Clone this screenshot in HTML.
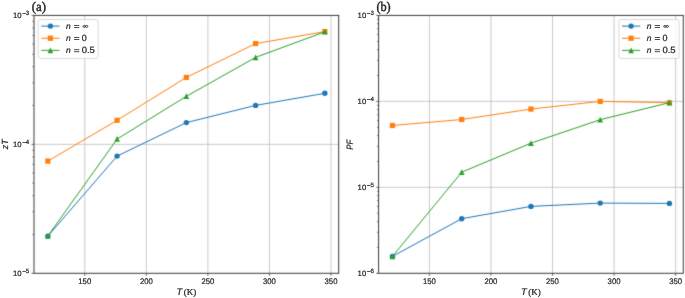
<!DOCTYPE html><html><head><meta charset="utf-8"><style>html,body{margin:0;padding:0;background:#fff;overflow:hidden;}svg{display:block;}text{text-rendering:geometricPrecision;font-family:"Liberation Sans",sans-serif;fill:#222;stroke:#222;stroke-width:0.2;}.serif{font-family:"Liberation Serif",serif;}.it{font-style:italic;}</style></head><body>
<svg width="685" height="298" viewBox="0 0 685 298">
<defs><filter id="bl" filterUnits="userSpaceOnUse" x="0" y="0" width="685" height="298" color-interpolation-filters="sRGB"><feConvolveMatrix order="3" kernelMatrix="1 6 1 6 36 6 1 6 1" divisor="64" edgeMode="duplicate"/></filter></defs>
<g filter="url(#bl)">
<rect width="685" height="298" fill="#fff"/>
<path d="M84.78 15.4V273.3M146.34 15.4V273.3M207.89 15.4V273.3M269.45 15.4V273.3M331.01 15.4V273.3M34.0 144.35H338.7" stroke="#c4c4c4" stroke-width="0.9" fill="none"/>
<polyline points="47.85,236.10 117.10,156.10 186.35,122.60 255.60,105.40 324.85,93.30" stroke="#1f77b4" stroke-width="1.0" fill="none" stroke-linejoin="round"/>
<circle cx="47.85" cy="236.10" r="2.70" fill="#1f77b4"/>
<circle cx="117.10" cy="156.10" r="2.70" fill="#1f77b4"/>
<circle cx="186.35" cy="122.60" r="2.70" fill="#1f77b4"/>
<circle cx="255.60" cy="105.40" r="2.70" fill="#1f77b4"/>
<circle cx="324.85" cy="93.30" r="2.70" fill="#1f77b4"/>
<polyline points="47.85,161.10 117.10,120.30 186.35,77.40 255.60,43.60 324.85,31.60" stroke="#ff7f0e" stroke-width="1.0" fill="none" stroke-linejoin="round"/>
<rect x="45.25" y="158.50" width="5.20" height="5.20" fill="#ff7f0e"/>
<rect x="114.50" y="117.70" width="5.20" height="5.20" fill="#ff7f0e"/>
<rect x="183.75" y="74.80" width="5.20" height="5.20" fill="#ff7f0e"/>
<rect x="253.00" y="41.00" width="5.20" height="5.20" fill="#ff7f0e"/>
<rect x="322.25" y="29.00" width="5.20" height="5.20" fill="#ff7f0e"/>
<polyline points="47.85,236.00 117.10,139.05 186.35,96.30 255.60,57.40 324.85,31.80" stroke="#2ca02c" stroke-width="1.0" fill="none" stroke-linejoin="round"/>
<polygon points="47.85,233.07 44.99,238.73 50.71,238.73" fill="#2ca02c"/>
<polygon points="117.10,136.12 114.24,141.78 119.96,141.78" fill="#2ca02c"/>
<polygon points="186.35,93.37 183.49,99.03 189.21,99.03" fill="#2ca02c"/>
<polygon points="255.60,54.47 252.74,60.13 258.46,60.13" fill="#2ca02c"/>
<polygon points="324.85,28.87 321.99,34.53 327.71,34.53" fill="#2ca02c"/>
<rect x="34.0" y="15.4" width="304.70" height="257.90" fill="none" stroke="#3a3a3a" stroke-width="1.0"/>
<path d="M84.78 273.3v2.5M146.34 273.3v2.5M207.89 273.3v2.5M269.45 273.3v2.5M331.01 273.3v2.5M34.0 15.40h-2.5M34.0 144.35h-2.5M34.0 273.30h-2.5M34.0 105.53h-1.5M34.0 82.83h-1.5M34.0 66.71h-1.5M34.0 54.22h-1.5M34.0 44.01h-1.5M34.0 35.37h-1.5M34.0 27.90h-1.5M34.0 21.30h-1.5M34.0 234.48h-1.5M34.0 211.78h-1.5M34.0 195.66h-1.5M34.0 183.17h-1.5M34.0 172.96h-1.5M34.0 164.32h-1.5M34.0 156.85h-1.5M34.0 150.25h-1.5" stroke="#3a3a3a" stroke-width="0.75" fill="none"/>
<rect x="38.2" y="19.5" width="59.90" height="39.0" rx="1.8" fill="#fff" fill-opacity="0.8" stroke="#cfcfcf" stroke-width="0.8"/>
<line x1="41.30" y1="26.10" x2="59.50" y2="26.10" stroke="#1f77b4" stroke-width="1.0"/>
<circle cx="50.40" cy="26.10" r="2.70" fill="#1f77b4"/>
<line x1="41.30" y1="38.25" x2="59.50" y2="38.25" stroke="#ff7f0e" stroke-width="1.0"/>
<rect x="47.80" y="35.65" width="5.20" height="5.20" fill="#ff7f0e"/>
<line x1="41.30" y1="50.40" x2="59.50" y2="50.40" stroke="#2ca02c" stroke-width="1.0"/>
<polygon points="50.40,47.47 47.54,53.13 53.26,53.13" fill="#2ca02c"/>
<path d="M429.38 15.4V273.3M490.94 15.4V273.3M552.49 15.4V273.3M614.05 15.4V273.3M675.61 15.4V273.3M378.6 101.37H683.3M378.6 187.33H683.3" stroke="#c4c4c4" stroke-width="0.9" fill="none"/>
<polyline points="392.45,256.40 461.70,218.70 530.95,206.40 600.20,203.10 669.45,203.40" stroke="#1f77b4" stroke-width="1.0" fill="none" stroke-linejoin="round"/>
<circle cx="392.45" cy="256.40" r="2.70" fill="#1f77b4"/>
<circle cx="461.70" cy="218.70" r="2.70" fill="#1f77b4"/>
<circle cx="530.95" cy="206.40" r="2.70" fill="#1f77b4"/>
<circle cx="600.20" cy="203.10" r="2.70" fill="#1f77b4"/>
<circle cx="669.45" cy="203.40" r="2.70" fill="#1f77b4"/>
<polyline points="392.45,125.50 461.70,119.50 530.95,109.05 600.20,101.40 669.45,102.70" stroke="#ff7f0e" stroke-width="1.0" fill="none" stroke-linejoin="round"/>
<rect x="389.85" y="122.90" width="5.20" height="5.20" fill="#ff7f0e"/>
<rect x="459.10" y="116.90" width="5.20" height="5.20" fill="#ff7f0e"/>
<rect x="528.35" y="106.45" width="5.20" height="5.20" fill="#ff7f0e"/>
<rect x="597.60" y="98.80" width="5.20" height="5.20" fill="#ff7f0e"/>
<rect x="666.85" y="100.10" width="5.20" height="5.20" fill="#ff7f0e"/>
<polyline points="392.45,256.40 461.70,172.20 530.95,143.15 600.20,119.70 669.45,102.65" stroke="#2ca02c" stroke-width="1.0" fill="none" stroke-linejoin="round"/>
<polygon points="392.45,253.47 389.59,259.13 395.31,259.13" fill="#2ca02c"/>
<polygon points="461.70,169.27 458.84,174.93 464.56,174.93" fill="#2ca02c"/>
<polygon points="530.95,140.22 528.09,145.88 533.81,145.88" fill="#2ca02c"/>
<polygon points="600.20,116.77 597.34,122.43 603.06,122.43" fill="#2ca02c"/>
<polygon points="669.45,99.72 666.59,105.38 672.31,105.38" fill="#2ca02c"/>
<rect x="378.6" y="15.4" width="304.70" height="257.90" fill="none" stroke="#3a3a3a" stroke-width="1.0"/>
<path d="M429.38 273.3v2.5M490.94 273.3v2.5M552.49 273.3v2.5M614.05 273.3v2.5M675.61 273.3v2.5M378.6 15.40h-2.5M378.6 101.37h-2.5M378.6 187.33h-2.5M378.6 273.30h-2.5M378.6 75.49h-1.5M378.6 60.35h-1.5M378.6 49.61h-1.5M378.6 41.28h-1.5M378.6 34.47h-1.5M378.6 28.72h-1.5M378.6 23.73h-1.5M378.6 19.33h-1.5M378.6 161.45h-1.5M378.6 146.32h-1.5M378.6 135.58h-1.5M378.6 127.25h-1.5M378.6 120.44h-1.5M378.6 114.68h-1.5M378.6 109.70h-1.5M378.6 105.30h-1.5M378.6 247.42h-1.5M378.6 232.28h-1.5M378.6 221.54h-1.5M378.6 213.21h-1.5M378.6 206.40h-1.5M378.6 200.65h-1.5M378.6 195.66h-1.5M378.6 191.27h-1.5" stroke="#3a3a3a" stroke-width="0.75" fill="none"/>
<rect x="618.9" y="19.5" width="60.20" height="39.0" rx="1.8" fill="#fff" fill-opacity="0.8" stroke="#cfcfcf" stroke-width="0.8"/>
<line x1="622.00" y1="26.10" x2="640.20" y2="26.10" stroke="#1f77b4" stroke-width="1.0"/>
<circle cx="631.10" cy="26.10" r="2.70" fill="#1f77b4"/>
<line x1="622.00" y1="38.25" x2="640.20" y2="38.25" stroke="#ff7f0e" stroke-width="1.0"/>
<rect x="628.50" y="35.65" width="5.20" height="5.20" fill="#ff7f0e"/>
<line x1="622.00" y1="50.40" x2="640.20" y2="50.40" stroke="#2ca02c" stroke-width="1.0"/>
<polygon points="631.10,47.47 628.24,53.13 633.96,53.13" fill="#2ca02c"/>
</g><g style="opacity:0.999">
<text x="84.78" y="284.10" font-size="8.1" text-anchor="middle" textLength="12.9" lengthAdjust="spacingAndGlyphs">150</text>
<text x="146.34" y="284.10" font-size="8.1" text-anchor="middle" textLength="12.9" lengthAdjust="spacingAndGlyphs">200</text>
<text x="207.89" y="284.10" font-size="8.1" text-anchor="middle" textLength="12.9" lengthAdjust="spacingAndGlyphs">250</text>
<text x="269.45" y="284.10" font-size="8.1" text-anchor="middle" textLength="12.9" lengthAdjust="spacingAndGlyphs">300</text>
<text x="331.01" y="284.10" font-size="8.1" text-anchor="middle" textLength="12.9" lengthAdjust="spacingAndGlyphs">350</text>
<text x="13.00" y="18.15" font-size="7.7" textLength="8.6" lengthAdjust="spacingAndGlyphs">10</text>
<rect x="22.40" y="13.15" width="3.4" height="0.8" fill="#222"/>
<text x="25.80" y="15.30" font-size="6.2">3</text>
<text x="13.00" y="147.10" font-size="7.7" textLength="8.6" lengthAdjust="spacingAndGlyphs">10</text>
<rect x="22.40" y="142.10" width="3.4" height="0.8" fill="#222"/>
<text x="25.80" y="144.25" font-size="6.2">4</text>
<text x="13.00" y="276.05" font-size="7.7" textLength="8.6" lengthAdjust="spacingAndGlyphs">10</text>
<rect x="22.40" y="271.05" width="3.4" height="0.8" fill="#222"/>
<text x="25.80" y="273.20" font-size="6.2">5</text>
<text x="176.45" y="294.70" font-size="9.4" class="it">T</text>
<text x="183.75" y="294.50" font-size="9.0" class="serif">(K)</text>
<text transform="translate(7.9,144.35) rotate(-90)" font-size="8.9" text-anchor="middle" class="it">zT</text>
<text class="serif" x="31.80" y="10.6" font-size="13.4" textLength="14.3" lengthAdjust="spacingAndGlyphs" style="stroke-width:0.42">(a)</text>
<text x="66.00" y="28.60" font-size="8.5" class="it">n</text>
<rect x="74.00" y="25.05" width="5.3" height="0.8" fill="#222"/>
<rect x="74.00" y="27.05" width="5.3" height="0.8" fill="#222"/>
<g fill="none" stroke="#222" stroke-width="0.85"><ellipse cx="84.20" cy="26.40" rx="1.25" ry="0.95"/><ellipse cx="86.60" cy="26.40" rx="1.25" ry="0.95"/></g>
<text x="66.00" y="40.75" font-size="8.5" class="it">n</text>
<rect x="74.00" y="37.20" width="5.3" height="0.8" fill="#222"/>
<rect x="74.00" y="39.20" width="5.3" height="0.8" fill="#222"/>
<text x="81.70" y="40.95" font-size="9.0" textLength="5.0" lengthAdjust="spacingAndGlyphs">0</text>
<text x="66.00" y="52.90" font-size="8.5" class="it">n</text>
<rect x="74.00" y="49.35" width="5.3" height="0.8" fill="#222"/>
<rect x="74.00" y="51.35" width="5.3" height="0.8" fill="#222"/>
<text x="81.70" y="53.10" font-size="9.0" textLength="13.2" lengthAdjust="spacingAndGlyphs">0.5</text>
<text x="429.38" y="284.10" font-size="8.1" text-anchor="middle" textLength="12.9" lengthAdjust="spacingAndGlyphs">150</text>
<text x="490.94" y="284.10" font-size="8.1" text-anchor="middle" textLength="12.9" lengthAdjust="spacingAndGlyphs">200</text>
<text x="552.49" y="284.10" font-size="8.1" text-anchor="middle" textLength="12.9" lengthAdjust="spacingAndGlyphs">250</text>
<text x="614.05" y="284.10" font-size="8.1" text-anchor="middle" textLength="12.9" lengthAdjust="spacingAndGlyphs">300</text>
<text x="675.61" y="284.10" font-size="8.1" text-anchor="middle" textLength="12.9" lengthAdjust="spacingAndGlyphs">350</text>
<text x="357.60" y="18.15" font-size="7.7" textLength="8.6" lengthAdjust="spacingAndGlyphs">10</text>
<rect x="367.00" y="13.15" width="3.4" height="0.8" fill="#222"/>
<text x="370.40" y="15.30" font-size="6.2">3</text>
<text x="357.60" y="104.12" font-size="7.7" textLength="8.6" lengthAdjust="spacingAndGlyphs">10</text>
<rect x="367.00" y="99.12" width="3.4" height="0.8" fill="#222"/>
<text x="370.40" y="101.27" font-size="6.2">4</text>
<text x="357.60" y="190.08" font-size="7.7" textLength="8.6" lengthAdjust="spacingAndGlyphs">10</text>
<rect x="367.00" y="185.08" width="3.4" height="0.8" fill="#222"/>
<text x="370.40" y="187.23" font-size="6.2">5</text>
<text x="357.60" y="276.05" font-size="7.7" textLength="8.6" lengthAdjust="spacingAndGlyphs">10</text>
<rect x="367.00" y="271.05" width="3.4" height="0.8" fill="#222"/>
<text x="370.40" y="273.20" font-size="6.2">6</text>
<text x="521.05" y="294.70" font-size="9.4" class="it">T</text>
<text x="528.35" y="294.50" font-size="9.0" class="serif">(K)</text>
<text transform="translate(353.0,144.65) rotate(-90)" font-size="9.3" text-anchor="middle" class="it" textLength="10.0" lengthAdjust="spacingAndGlyphs">PF</text>
<text class="serif" x="376.40" y="10.6" font-size="13.4" textLength="14.3" lengthAdjust="spacingAndGlyphs" style="stroke-width:0.42">(b)</text>
<text x="646.70" y="28.60" font-size="8.5" class="it">n</text>
<rect x="654.70" y="25.05" width="5.3" height="0.8" fill="#222"/>
<rect x="654.70" y="27.05" width="5.3" height="0.8" fill="#222"/>
<g fill="none" stroke="#222" stroke-width="0.85"><ellipse cx="664.90" cy="26.40" rx="1.25" ry="0.95"/><ellipse cx="667.30" cy="26.40" rx="1.25" ry="0.95"/></g>
<text x="646.70" y="40.75" font-size="8.5" class="it">n</text>
<rect x="654.70" y="37.20" width="5.3" height="0.8" fill="#222"/>
<rect x="654.70" y="39.20" width="5.3" height="0.8" fill="#222"/>
<text x="662.40" y="40.95" font-size="9.0" textLength="5.0" lengthAdjust="spacingAndGlyphs">0</text>
<text x="646.70" y="52.90" font-size="8.5" class="it">n</text>
<rect x="654.70" y="49.35" width="5.3" height="0.8" fill="#222"/>
<rect x="654.70" y="51.35" width="5.3" height="0.8" fill="#222"/>
<text x="662.40" y="53.10" font-size="9.0" textLength="13.2" lengthAdjust="spacingAndGlyphs">0.5</text>
</g>
</svg></body></html>
